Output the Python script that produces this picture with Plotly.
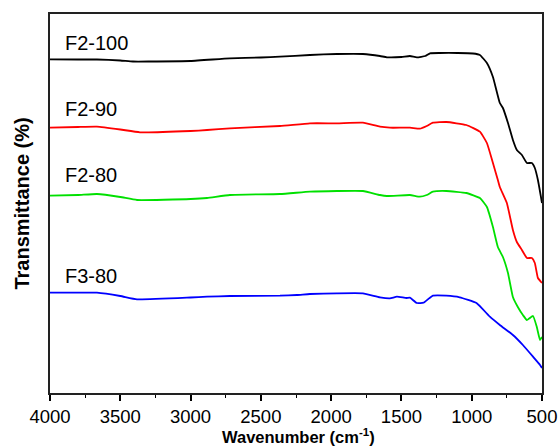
import plotly.graph_objects as go

# Wavenumbers (cm-1) and offset transmittance values
wn_f2_100 = [4000, 3800, 3666, 3500, 3410, 3300, 3000, 2720, 2500, 2364, 2151, 1959, 1774, 1653, 1603, 1500,
             1440, 1390, 1330, 1297, 1226, 1100, 991, 942, 892, 849, 800, 778, 742, 707, 679, 643, 607, 572,
             551, 529, 500]
t_f2_100 = [333.7, 333.5, 333.5, 332.5, 331.5, 331.5, 332, 334.7, 335.5, 336.3, 338, 339, 339, 337, 335.7, 336,
            337, 335.7, 337, 339.7, 340, 340, 339.5, 338, 330, 316, 290, 285, 270, 253, 243, 238, 230, 230,
            225, 213, 190]

wn_f2_90 = [4000, 3800, 3666, 3500, 3360, 3000, 2883, 2720, 2364, 2151, 1959, 1774, 1653, 1582, 1440, 1369,
            1320, 1276, 1180, 1038, 942, 892, 849, 814, 800, 750, 707, 679, 643, 607, 572, 551, 529, 500]
t_f2_90 = [265.3, 266, 266.3, 263.5, 260.7, 262, 263, 264.7, 267, 269.7, 269.7, 270.3, 266.3, 265.3, 265.3, 264.3,
           267, 270.3, 271, 268, 261.3, 250, 230, 213, 206, 190, 163, 151, 143, 135, 135, 130, 115, 110]

wn_f2_80 = [4000, 3800, 3666, 3500, 3381, 3000, 2883, 2720, 2364, 2151, 1959, 1774, 1653, 1603, 1440, 1369,
            1320, 1276, 1180, 1038, 942, 892, 849, 814, 778, 742, 707, 672, 636, 607, 564, 537, 514, 500]
t_f2_80 = [197.3, 198, 199, 196, 193, 194, 195, 198, 199, 201.3, 202, 202, 198, 197, 198, 196.3,
           198, 201.3, 202, 200, 195, 186, 166, 146, 136, 120, 96, 86, 78, 73, 77, 66, 53, 56]

wn_f3_80 = [4000, 3800, 3666, 3500, 3381, 3000, 2883, 2720, 2364, 2243, 2151, 1959, 1774, 1653, 1582, 1532,
            1464, 1440, 1390, 1343, 1300, 1276, 1181, 1086, 966, 871, 800, 707, 636, 564, 514, 500]
t_f3_80 = [100.3, 100.3, 100.3, 97, 93.7, 95.5, 96.3, 97, 97.3, 98, 99, 99.7, 99.7, 95.7, 94.7, 96.3,
           95, 95.3, 90, 90.3, 95, 97.3, 97.3, 95.7, 90, 76.3, 68, 58, 48, 36.3, 28, 25]

series_names = ["F2-100", "F2-90", "F2-80", "F3-80"]
series_colors = ["#000000", "#ff0000", "#00e000", "#0000ff"]
label_y = [349.7, 283.7, 218, 117]
label_x = 3910

x_tick_vals = [4000, 3500, 3000, 2500, 2000, 1500, 1000, 500]
x_tick_text = ["4000", "3500", "3000", "2500", "2000", "1500", "1000", "500"]

FONT = "Liberation Sans, Arial, sans-serif"

fig = go.Figure()
all_x = [wn_f2_100, wn_f2_90, wn_f2_80, wn_f3_80]
all_y = [t_f2_100, t_f2_90, t_f2_80, t_f3_80]
for xs, ys, name, col in zip(all_x, all_y, series_names, series_colors):
    fig.add_trace(go.Scatter(x=xs, y=ys, mode="lines", name=name,
                             line=dict(color=col, width=1.8, shape="spline", smoothing=0.4),
                             showlegend=False))

for name, ly in zip(series_names, label_y):
    fig.add_annotation(x=label_x, y=ly, text=name, showarrow=False, xanchor="left", yanchor="middle",
                       font=dict(family=FONT, size=20, color="#000000"))

# Axis titles placed as paper annotations
fig.add_annotation(xref="paper", yref="paper", x=0.506, y=-0.113, text="<b>Wavenumber (cm<sup>-1</sup>)</b>",
                   showarrow=False, xanchor="center", yanchor="middle",
                   font=dict(family=FONT, size=16.5, color="#000000"))
fig.add_annotation(xref="paper", yref="paper", x=-0.0575, y=0.499, text="<b>Transmittance (%)</b>",
                   showarrow=False, xanchor="center", yanchor="middle", textangle=-90,
                   font=dict(family=FONT, size=20, color="#000000"))

fig.update_layout(
    width=559, height=448,
    margin=dict(l=50, r=17, t=14, b=55, autoexpand=False),
    paper_bgcolor="white", plot_bgcolor="white",
    font=dict(family=FONT, color="#000000"),
)
fig.update_xaxes(
    range=[4000, 500], tickvals=x_tick_vals, ticktext=x_tick_text,
    ticks="outside", ticklen=6, tickwidth=1.5, tickcolor="#000000",
    minor=dict(dtick=250, ticks="outside", ticklen=3, tickwidth=1.2, tickcolor="#000000"),
    showline=True, linecolor="#222222", linewidth=1.8, mirror=True,
    showgrid=False, zeroline=False, automargin=False,
    tickfont=dict(family=FONT, size=18.5, color="#000000"),
)
fig.update_yaxes(
    range=[0, 379], showticklabels=False, ticks="",
    showline=True, linecolor="#222222", linewidth=1.8, mirror=True,
    showgrid=False, zeroline=False, automargin=False,
)

fig.write_html("out.html", config={"displayModeBar": False},
               post_script="document.body.style.margin='0';document.body.style.overflow='hidden';")
